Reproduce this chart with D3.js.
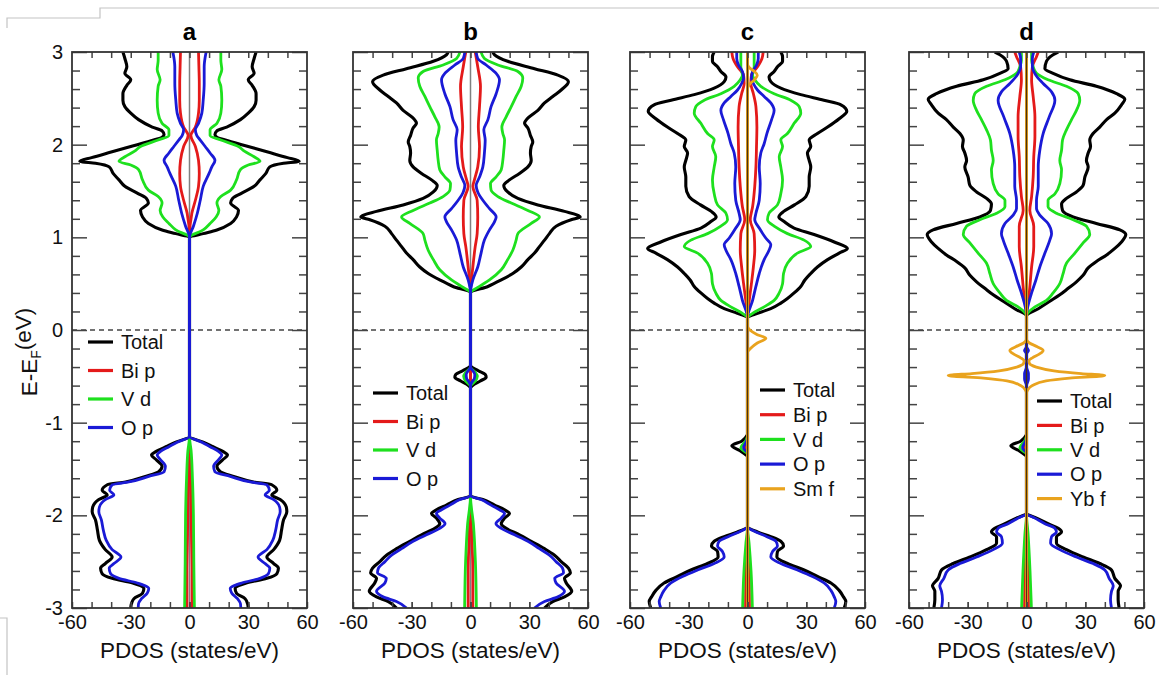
<!DOCTYPE html>
<html>
<head>
<meta charset="utf-8">
<script src="https://cdn.jsdelivr.net/npm/d3@7"></script>
<style>
  body { margin: 0; background: #fff; }
  svg { display: block; font-family: Arial, "Liberation Sans", sans-serif; }
</style>
</head>
<body>
<div id="chart"></div>
<script>
// PDOS curves as [energy (eV), |PDOS| (states/eV)], spin up drawn right, spin down mirrored left
const panelLabels = ["a", "b", "c", "d"];
const xTicks = [-60, -30, 0, 30, 60];
const yTicks = [-3, -2, -1, 0, 1, 2, 3];

// ---- panel a ----
const aTotal = [[-3.0,30],[-2.95,29.6],[-2.90,28.4],[-2.84,24],[-2.79,23.3],[-2.73,29],[-2.68,39.5],[-2.63,44.6],[-2.57,45.4],[-2.52,43],[-2.45,39.5],[-2.37,43],[-2.27,46],[-2.16,47],[-2.05,48],[-1.96,49.7],[-1.91,49.4],[-1.83,46.3],[-1.78,42],[-1.73,44.6],[-1.67,42],[-1.64,32.7],[-1.58,22.5],[-1.53,15.7],[-1.47,14],[-1.40,17],[-1.35,19.4],[-1.31,17],[-1.26,12],[-1.21,7],[-1.15,0],
  [1.0,0],[1.04,7],[1.08,14],[1.15,21],[1.22,24],[1.29,25],[1.37,21],[1.42,22],[1.47,26],[1.55,33],[1.62,36],[1.69,39],[1.76,41],[1.80,48],[1.82,56],[1.86,50],[1.92,40],[1.98,30],[2.04,20],[2.08,14],[2.11,13],[2.15,14],[2.19,19],[2.27,26],[2.34,30],[2.41,33],[2.48,34],[2.55,34],[2.64,32],[2.70,30],[2.77,33],[2.84,32],[2.93,33],[3.0,34]];
const aBip = [[-3.0,1.3],[-2.6,1.3],[-2.2,1],[-1.8,0.8],[-1.5,0.3],[-1.15,0],
  [1.0,0],[1.26,1.2],[1.40,3],[1.55,4.6],[1.69,5],[1.83,4.6],[1.98,3],[2.10,0.7],[2.19,3],[2.34,4.6],[2.48,5],[2.66,5],[2.84,4.8],[3.0,4.6]];
const aVd = [[-3.0,2.5],[-2.5,2.2],[-2.0,2],[-1.6,1.5],[-1.3,0.8],[-1.15,0],
  [1.0,0],[1.08,7],[1.15,10.5],[1.22,13.6],[1.29,15],[1.37,14],[1.44,16],[1.51,21],[1.62,24],[1.73,26],[1.78,30],[1.82,36],[1.87,33],[1.93,28],[1.98,25],[2.05,16],[2.10,10.5],[2.16,10.5],[2.23,14],[2.34,16],[2.48,16.5],[2.63,16],[2.70,15],[2.81,16.5],[2.91,16],[3.0,16]];
const aOp = [[-3.0,26.2],[-2.95,26],[-2.90,24.5],[-2.84,21.6],[-2.79,20.8],[-2.73,26.7],[-2.68,36],[-2.63,40.3],[-2.57,41],[-2.52,38.6],[-2.45,35],[-2.37,39.5],[-2.27,42.5],[-2.16,44],[-2.05,45],[-1.96,46.3],[-1.91,46],[-1.83,43],[-1.78,38.6],[-1.73,40.8],[-1.67,39.5],[-1.64,31],[-1.58,20.8],[-1.53,13],[-1.47,12.3],[-1.40,14.8],[-1.35,16.5],[-1.31,14.8],[-1.26,10.5],[-1.21,6.3],[-1.15,0],
  [1.0,0],[1.12,2],[1.26,4],[1.40,5.5],[1.55,7],[1.69,10],[1.76,11.4],[1.83,13],[1.91,10.5],[1.98,8],[2.05,5.5],[2.10,3.7],[2.16,3],[2.23,4.6],[2.34,6.3],[2.48,7],[2.66,7.5],[2.84,7.5],[3.0,8.5]];

// ---- panel b ----
const bTotal = [[-3.0,37.8],[-2.93,42],[-2.88,48],[-2.82,51.7],[-2.73,48.9],[-2.68,48],[-2.62,51],[-2.57,50],[-2.50,46.3],[-2.43,42.9],[-2.36,37.8],[-2.28,31],[-2.21,25],[-2.14,18.2],[-2.09,15.7],[-2.03,17.4],[-1.98,19.9],[-1.94,17.4],[-1.89,12.3],[-1.83,6.3],[-1.79,0],
  [-0.63,0],[-0.60,1],[-0.55,5],[-0.51,8],[-0.48,7.5],[-0.44,4],[-0.38,0],
  [0.40,0],[0.47,8.9],[0.54,15.7],[0.61,21.6],[0.68,25.9],[0.76,29.3],[0.83,32.7],[0.90,35.2],[0.97,37.8],[1.04,40.3],[1.12,43.7],[1.19,51.4],[1.22,56],[1.28,48],[1.35,34.4],[1.42,24.2],[1.49,19],[1.56,17],[1.62,19.9],[1.69,25],[1.76,29.3],[1.83,31],[1.91,30.6],[1.98,31],[2.03,31.8],[2.10,30.6],[2.18,29.3],[2.23,27.6],[2.30,30],[2.37,34.4],[2.45,37.8],[2.52,42],[2.59,46.3],[2.68,50],[2.75,44.6],[2.82,32.7],[2.90,19],[2.97,12.3],[3.0,11.4]];
const bBip = [[-3.0,1.2],[-2.6,1.2],[-2.2,0.6],[-1.79,0],
  [0.40,0],[0.68,1.2],[0.90,2.4],[1.04,3.4],[1.22,3.7],[1.40,3.4],[1.55,1.2],[1.62,2],[1.76,3.7],[1.98,4.6],[2.19,4],[2.41,4.6],[2.63,5.1],[2.84,3.7],[3.0,2.4]];
const bVd = [[-3.0,3],[-2.5,2.5],[-2.1,1.5],[-1.79,0],
  [-0.61,0],[-0.55,2.5],[-0.50,3.5],[-0.46,2.5],[-0.40,0],
  [0.40,0],[0.47,4.6],[0.54,9.7],[0.65,15.7],[0.76,19],[0.86,21.6],[0.97,23.3],[1.04,24.2],[1.15,31],[1.22,35.2],[1.29,29.3],[1.37,20.8],[1.44,14],[1.51,10.5],[1.58,10.2],[1.65,13],[1.73,15.7],[1.83,16.5],[1.94,17],[2.05,17.4],[2.12,16.5],[2.19,16],[2.30,18.2],[2.41,20.8],[2.52,23.3],[2.63,25.9],[2.72,26.7],[2.79,24.2],[2.86,14],[2.93,7.1],[3.0,5.4]];
const bOp = [[-3.0,32.7],[-2.93,37.8],[-2.88,44.6],[-2.82,48],[-2.73,43.7],[-2.68,43],[-2.62,47.5],[-2.57,47],[-2.50,43.7],[-2.43,40.3],[-2.36,35.2],[-2.28,29.3],[-2.21,22.5],[-2.14,15.7],[-2.09,13],[-2.03,15.7],[-1.98,17.4],[-1.94,14.8],[-1.89,10.5],[-1.83,5.4],[-1.79,0],
  [-0.60,0],[-0.56,0.8],[-0.52,2],[-0.48,2.2],[-0.42,0.5],[-0.40,0],
  [0.40,0],[0.54,1.2],[0.68,3.7],[0.83,5.4],[0.97,7.1],[1.08,9.7],[1.17,12.3],[1.22,13.1],[1.31,9.7],[1.40,6.3],[1.49,3.7],[1.56,2.9],[1.65,4.6],[1.76,6.3],[1.91,7.1],[2.05,7.5],[2.16,6.8],[2.27,8.9],[2.41,10.5],[2.55,13.1],[2.70,14.8],[2.77,13.1],[2.86,8],[2.93,3.7],[3.0,2.9]];

// ---- panel c ----
const cTotal = [[-3.0,49.4],[-2.93,50.2],[-2.88,49],[-2.81,46.8],[-2.73,42.6],[-2.66,35.7],[-2.59,28.9],[-2.52,20.4],[-2.45,15],[-2.39,15.3],[-2.33,18.4],[-2.28,17],[-2.23,11.9],[-2.18,5.1],[-2.12,0],
  [0.13,0],[0.18,5.1],[0.23,11.9],[0.29,17],[0.34,20.4],[0.40,23.8],[0.47,27.2],[0.54,29.3],[0.61,32.3],[0.68,35.7],[0.76,40.9],[0.83,46.8],[0.88,51],[0.95,44.3],[1.03,34],[1.10,23.8],[1.17,18.7],[1.22,16],[1.28,18.5],[1.35,24],[1.44,29.8],[1.55,31.5],[1.65,31.5],[1.76,32.3],[1.83,31.5],[1.91,30.6],[1.98,32.3],[2.05,31.5],[2.12,35.7],[2.19,40.9],[2.28,46.8],[2.36,50.7],[2.43,47.7],[2.48,39],[2.54,27.2],[2.61,17],[2.68,11.9],[2.73,11],[2.79,13.6],[2.84,15.3],[2.90,17.9],[2.95,17.9],[3.0,17]];
const cBip = [[-3.0,1],[-2.6,0.8],[-2.12,0],
  [0.13,0],[0.32,0.9],[0.50,2],[0.68,3],[0.86,3.7],[1.04,3.4],[1.19,1.4],[1.33,2.6],[1.55,3.7],[1.76,4.3],[1.98,4.6],[2.19,4.8],[2.41,4.3],[2.55,3],[2.66,1.7],[2.75,2],[2.84,5.1],[2.93,7.4],[3.0,8]];
const cVd = [[-3.0,2.5],[-2.6,1.8],[-2.3,0.8],[-2.12,0],
  [0.13,0],[0.18,2.6],[0.25,8.5],[0.32,13.6],[0.40,16.2],[0.50,17.9],[0.61,18.4],[0.72,20.4],[0.83,25.5],[0.90,32.3],[0.97,28.9],[1.04,20.4],[1.12,13.6],[1.19,10.2],[1.26,11],[1.35,15.3],[1.47,17],[1.62,17.9],[1.76,17],[1.87,16.2],[1.98,17.9],[2.05,17],[2.12,20.4],[2.23,23.8],[2.34,27.2],[2.41,26.4],[2.48,22.1],[2.55,13.6],[2.63,6.8],[2.70,3.7],[2.75,2.6],[2.84,3.4],[2.95,3.4],[3.0,3.4]];
const cOp = [[-3.0,44.3],[-2.93,45.1],[-2.88,44.3],[-2.81,42.6],[-2.73,39.1],[-2.66,33.2],[-2.59,25.5],[-2.52,17],[-2.45,11.9],[-2.39,12.8],[-2.33,15.3],[-2.28,14.5],[-2.23,9.9],[-2.18,4.3],[-2.12,0],
  [0.13,0],[0.32,2.6],[0.47,4.3],[0.61,6],[0.76,8.5],[0.86,11],[0.92,11.9],[0.99,9.4],[1.10,6],[1.19,3.7],[1.26,4.3],[1.40,6],[1.58,6.5],[1.76,6],[1.91,6.8],[2.01,8.5],[2.12,9.9],[2.27,12.3],[2.37,13.6],[2.45,11.9],[2.52,8.5],[2.59,5.1],[2.66,3],[2.72,2],[2.79,2.6],[2.86,4.6],[2.93,5.5],[3.0,5.5]];
const cSmf = [[-3.0,0],[-0.24,0],[-0.20,1.5],[-0.14,5],[-0.09,9.4],[-0.05,5],[0.0,1.2],[0.04,0],
  [2.60,0],[2.65,1],[2.70,3.5],[2.75,5],[2.79,3.5],[2.83,1],[2.87,0],[3.0,0]];
const cSmfDn = [[-3.0,0],[3.0,0]];
// spin-down only gap state near -1.25 eV
const cTotalDn = [[-1.36,0],[-1.30,4],[-1.25,8],[-1.20,3],[-1.13,0]];
const cVdDn = [[-1.33,0],[-1.27,3.4],[-1.20,1],[-1.15,0]];
const cOpDn = [[-1.32,0],[-1.27,2],[-1.20,0.5],[-1.16,0]];
const cBipDn = [[-1.30,0],[-1.26,1.2],[-1.20,0]];

// ---- panel d ----
const dTotal = [[-3.0,47.3],[-2.91,46.8],[-2.82,46.8],[-2.76,48],[-2.68,45.1],[-2.59,43.4],[-2.52,37.4],[-2.45,28.9],[-2.37,20.4],[-2.30,15.3],[-2.23,15.3],[-2.18,17.9],[-2.14,16.2],[-2.09,11],[-2.03,5.1],[-1.98,0],
  [0.15,0],[0.23,6],[0.31,11.9],[0.38,17],[0.45,21.3],[0.52,25.5],[0.59,28.9],[0.67,31.5],[0.74,35.7],[0.81,40.9],[0.88,45.1],[0.95,48.5],[1.03,50.7],[1.08,47.7],[1.15,35.7],[1.22,23.8],[1.29,18.4],[1.36,17.9],[1.42,20.4],[1.49,25.5],[1.56,28.9],[1.65,29.8],[1.76,31.5],[1.83,30.6],[1.91,31.5],[1.98,32.7],[2.05,32.3],[2.12,34],[2.19,37.4],[2.27,40.9],[2.34,45.1],[2.43,48.5],[2.49,50.2],[2.55,46],[2.63,35.7],[2.70,22.1],[2.77,13.6],[2.82,9.4],[2.90,10.2],[2.97,13.6],[3.0,16.2]];
const dBip = [[-3.0,1],[-2.6,0.8],[-1.98,0],
  [0.15,0],[0.40,1.4],[0.68,2.6],[0.90,3.7],[1.12,3.7],[1.29,1.7],[1.44,2.6],[1.65,3.4],[1.87,3.7],[2.09,4.3],[2.30,4.3],[2.52,3.4],[2.70,2.6],[2.84,3],[2.95,5.1],[3.0,6]];
const dVd = [[-3.0,2.5],[-2.6,1.8],[-2.2,0.8],[-1.98,0],
  [0.15,0],[0.25,4.3],[0.32,10.2],[0.40,13.6],[0.50,17],[0.61,18.7],[0.72,20.4],[0.83,24.7],[0.94,28.9],[1.03,32.3],[1.12,30.6],[1.19,23.8],[1.26,15.3],[1.33,11],[1.40,11],[1.47,14.5],[1.58,17],[1.73,17.9],[1.83,17],[1.94,17.9],[2.05,18.4],[2.16,20.4],[2.27,23],[2.37,25.5],[2.48,27.2],[2.55,26.4],[2.63,20.4],[2.70,11],[2.77,5.1],[2.84,3.4],[2.91,2.6],[3.0,2.6]];
const dOp = [[-3.0,43.4],[-2.91,42.9],[-2.82,43.4],[-2.76,44.3],[-2.68,42.2],[-2.59,40],[-2.52,34],[-2.45,25.5],[-2.37,17],[-2.30,12.3],[-2.23,12.8],[-2.18,15.3],[-2.14,14.5],[-2.09,9.4],[-2.03,4.3],[-1.98,0],
  [-0.60,0],[-0.53,1],[-0.47,1],[-0.40,0],[-0.26,0],[-0.22,1],[-0.18,0],
  [0.15,0],[0.40,2.6],[0.54,4.8],[0.68,6.8],[0.83,9.4],[0.97,11.9],[1.04,12.8],[1.15,11],[1.24,6.8],[1.31,5.1],[1.40,5.1],[1.55,6],[1.76,6],[1.94,6.8],[2.12,8.5],[2.30,11.6],[2.48,14.5],[2.57,12.8],[2.66,8.5],[2.75,4.8],[2.84,3],[2.93,3],[3.0,3.7]];
const dYbf = [[-3.0,0],[-0.68,0],[-0.65,0.5],[-0.60,3],[-0.55,10],[-0.52,22],[-0.49,40],[-0.47,28],[-0.44,14],[-0.40,5],[-0.36,1.5],[-0.33,1.2],[-0.30,3],[-0.26,6.5],[-0.22,8.5],[-0.18,5.5],[-0.14,1.5],[-0.10,0],[3.0,0]];
const dTotalDn = [[-1.36,0],[-1.30,4],[-1.25,8],[-1.20,3],[-1.13,0]];
const dVdDn = [[-1.33,0],[-1.27,3.4],[-1.20,1],[-1.15,0]];
const dOpDn = [[-1.32,0],[-1.27,2],[-1.20,0.5],[-1.16,0]];
const dBipDn = [[-1.30,0],[-1.26,1.2],[-1.20,0]];

const colors = { "Total": "#000000", "Bi p": "#e41a1a", "V d": "#1ee01e", "O p": "#1a1ad6", "Sm f": "#e9a31e", "Yb f": "#e9a31e" };

// series per panel: up = spin up (right), dn = spin down (left)
const panels = [
  { label: "a", left: 72, series: [
      { name: "Total", up: aTotal, dn: aTotal },
      { name: "Bi p", up: aBip, dn: aBip },
      { name: "V d", up: aVd, dn: aVd },
      { name: "O p", up: aOp, dn: aOp }],
    legend: { x: 88, y: 342, step: 28.5 } },
  { label: "b", left: 353, series: [
      { name: "Total", up: bTotal, dn: bTotal },
      { name: "Bi p", up: bBip, dn: bBip },
      { name: "V d", up: bVd, dn: bVd },
      { name: "O p", up: bOp, dn: bOp }],
    legend: { x: 373, y: 393, step: 28.5 } },
  { label: "c", left: 630, series: [
      { name: "Total", up: cTotal, dn: cTotal, dnExtra: cTotalDn },
      { name: "Bi p", up: cBip, dn: cBip, dnExtra: cBipDn },
      { name: "V d", up: cVd, dn: cVd, dnExtra: cVdDn },
      { name: "O p", up: cOp, dn: cOp, dnExtra: cOpDn },
      { name: "Sm f", up: cSmf, dn: cSmfDn }],
    legend: { x: 760, y: 390, step: 24.7 } },
  { label: "d", left: 909, series: [
      { name: "Total", up: dTotal, dn: dTotal, dnExtra: dTotalDn },
      { name: "Bi p", up: dBip, dn: dBip, dnExtra: dBipDn },
      { name: "V d", up: dVd, dn: dVd, dnExtra: dVdDn },
      { name: "O p", up: dOp, dn: dOp, dnExtra: dOpDn },
      { name: "Yb f", up: dYbf, dn: dYbf }],
    legend: { x: 1037, y: 401, step: 24.4 } }
];

const W = 1159, H = 675;
const panelW = 235, plotTop = 52, plotBottom = 608;

const svg = d3.select("#chart").append("svg")
  .attr("width", W)
  .attr("height", H);

// screenshot border remnants
svg.append("path")
  .attr("d", "M7,28 V18 H100 V8 H1159")
  .attr("fill", "none").attr("stroke", "#c4c4c4").attr("stroke-width", 1.2);
svg.append("path")
  .attr("d", "M0,618 H7 V675")
  .attr("fill", "none").attr("stroke", "#c4c4c4").attr("stroke-width", 1.2);

const y = d3.scaleLinear().domain([-3, 3]).range([plotBottom, plotTop]);
const minorY = d3.range(-30, 31, 2).map(v => v / 10).filter(v => Math.abs(v % 1) > 0.01);
const minorX = d3.range(-50, 60, 10);

function styleAxis(sel) {
  sel.select(".domain").remove();
  sel.selectAll(".tick line").attr("stroke", "#444").attr("stroke-width", 1.5);
  sel.selectAll(".tick text").attr("fill", "#111").style("font-size", "20px")
    .style("font-family", "Arial, 'Liberation Sans', sans-serif");
}

panels.forEach((p, i) => {
  const x = d3.scaleLinear().domain([-60, 60]).range([p.left, p.left + panelW]);
  const g = svg.append("g");

  g.append("clipPath").attr("id", "clip" + i)
    .append("rect")
    .attr("x", p.left).attr("y", plotTop)
    .attr("width", panelW).attr("height", plotBottom - plotTop);

  const plot = g.append("g").attr("clip-path", `url(#clip${i})`);

  // zero lines
  plot.append("line")
    .attr("x1", x(0)).attr("x2", x(0))
    .attr("y1", plotTop).attr("y2", plotBottom)
    .attr("stroke", "#808080").attr("stroke-width", 1.5);
  plot.append("line")
    .attr("x1", p.left).attr("x2", p.left + panelW)
    .attr("y1", y(0)).attr("y2", y(0))
    .attr("stroke", "#444").attr("stroke-width", 1.3)
    .attr("stroke-dasharray", "5,4");

  const lineUp = d3.line().x(d => x(d[1])).y(d => y(d[0])).curve(d3.curveMonotoneY);
  const lineDn = d3.line().x(d => x(-d[1])).y(d => y(d[0])).curve(d3.curveMonotoneY);

  p.series.forEach(s => {
    const isTotal = s.name === "Total";
    const w = isTotal ? 3.1 : 2.8;
    [[s.up, lineUp], [s.dn, lineDn], [s.dnExtra, lineDn]].forEach(([data, gen]) => {
      if (!data) return;
      plot.append("path")
        .datum(data)
        .attr("d", gen)
        .attr("fill", "none")
        .attr("stroke", colors[s.name])
        .attr("stroke-width", w)
        .attr("stroke-linejoin", "round");
    });
  });

  // dark centre line where the f-states lie on top
  if (p.series.length > 4) {
    plot.append("line")
      .attr("x1", x(0)).attr("x2", x(0))
      .attr("y1", plotTop).attr("y2", plotBottom)
      .attr("stroke", "#4a3210").attr("stroke-width", 1.3);
  }

  // axes (ticks inward)
  const bottomAx = g.append("g").attr("transform", `translate(0,${plotBottom})`)
    .call(d3.axisBottom(x).tickValues(xTicks).tickSizeInner(-6).tickSizeOuter(0)
      .tickPadding(7).tickFormat(d => String(d)));
  styleAxis(bottomAx);
  styleAxis(g.append("g").attr("transform", `translate(0,${plotBottom})`)
    .call(d3.axisBottom(x).tickValues(minorX).tickSize(-6).tickFormat("")));
  styleAxis(g.append("g").attr("transform", `translate(0,${plotTop})`)
    .call(d3.axisTop(x).tickValues(minorX).tickSize(-6).tickFormat("")));

  const leftAx = g.append("g").attr("transform", `translate(${p.left},0)`)
    .call(d3.axisLeft(y).tickValues(yTicks).tickSizeInner(-15).tickSizeOuter(0)
      .tickPadding(9).tickFormat(d => i === 0 ? String(d) : ""));
  styleAxis(leftAx);
  styleAxis(g.append("g").attr("transform", `translate(${p.left},0)`)
    .call(d3.axisLeft(y).tickValues(minorY).tickSize(-8).tickFormat("")));
  styleAxis(g.append("g").attr("transform", `translate(${p.left + panelW},0)`)
    .call(d3.axisRight(y).tickValues(yTicks).tickSizeInner(-15).tickSizeOuter(0).tickFormat("")));
  styleAxis(g.append("g").attr("transform", `translate(${p.left + panelW},0)`)
    .call(d3.axisRight(y).tickValues(minorY).tickSize(-8).tickFormat("")));

  // frame
  g.append("rect")
    .attr("x", p.left).attr("y", plotTop)
    .attr("width", panelW).attr("height", plotBottom - plotTop)
    .attr("fill", "none").attr("stroke", "#333").attr("stroke-width", 1.8);

  // title and axis title
  g.append("text")
    .attr("x", x(0)).attr("y", 40)
    .attr("text-anchor", "middle")
    .style("font-size", "24px").style("font-weight", "bold")
    .text(p.label);
  g.append("text")
    .attr("x", x(0)).attr("y", 658)
    .attr("text-anchor", "middle")
    .style("font-size", "22.5px").attr("fill", "#111")
    .text("PDOS (states/eV)");

  // legend
  const lg = g.append("g");
  p.series.forEach((s, k) => {
    const ly = p.legend.y + k * p.legend.step;
    lg.append("line")
      .attr("x1", p.legend.x).attr("x2", p.legend.x + 25)
      .attr("y1", ly).attr("y2", ly)
      .attr("stroke", colors[s.name]).attr("stroke-width", 3.2);
    lg.append("text")
      .attr("x", p.legend.x + 33).attr("y", ly)
      .attr("dy", "0.36em")
      .style("font-size", "20px").attr("fill", "#111")
      .text(s.name);
  });
});

// y axis title
const yTitle = svg.append("text")
  .attr("transform", "translate(37,352) rotate(-90)")
  .attr("text-anchor", "middle")
  .style("font-size", "22.5px").attr("fill", "#111");
yTitle.append("tspan").text("E-E");
yTitle.append("tspan").attr("dy", "0.3em").style("font-size", "14px").text("F");
yTitle.append("tspan").attr("dy", "-0.45em").text("(eV)");
</script>
</body>
</html>
